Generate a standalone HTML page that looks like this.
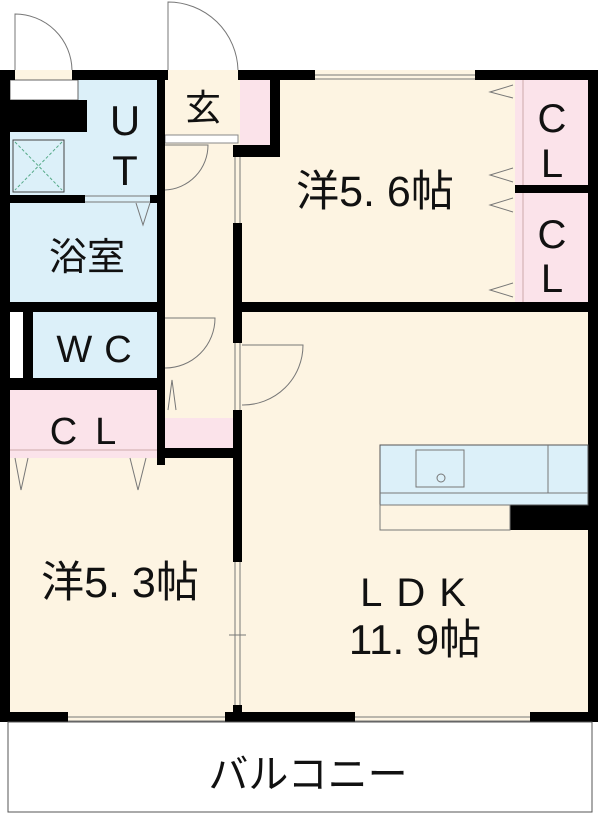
<!DOCTYPE html>
<html><head><meta charset="utf-8"><style>
html,body{margin:0;padding:0;background:#fff;}
svg{display:block;}
text{font-family:"Liberation Sans","Noto Sans CJK JP",sans-serif;fill:#111;}
</style></head><body>
<svg width="600" height="818" viewBox="0 0 600 818" xmlns="http://www.w3.org/2000/svg">
<rect x="0" y="70" width="598" height="652" fill="#fdf4e2"/>
<rect x="10" y="80" width="147" height="222" fill="#dcf0f9"/>
<rect x="10" y="312" width="147" height="66" fill="#dcf0f9"/>
<rect x="10" y="390" width="147" height="68" fill="#fbe3ea"/>
<rect x="165" y="418" width="68" height="30" fill="#fbe3ea"/>
<rect x="240" y="80" width="30" height="65" fill="#fbe3ea"/>
<rect x="515" y="80" width="73" height="222" fill="#fbe3ea"/>
<line x1="523" y1="80" x2="523" y2="302" stroke="#caa" stroke-width="1"/>
<line x1="10" y1="450" x2="157" y2="450" stroke="#caa" stroke-width="1"/>
<rect x="10" y="80" width="68" height="20" fill="#fff" stroke="#666" stroke-width="1"/>
<rect x="10" y="100" width="77" height="32" fill="#000"/>
<rect x="13" y="140" width="51" height="52" fill="none" stroke="#444" stroke-width="1"/>
<line x1="15" y1="142" x2="62" y2="190" stroke="#5a8" stroke-width="1" stroke-dasharray="3,2"/>
<line x1="62" y1="142" x2="15" y2="190" stroke="#5a8" stroke-width="1" stroke-dasharray="3,2"/>
<rect x="10" y="312" width="13" height="66" fill="#fff"/>
<rect x="23" y="312" width="10" height="66" fill="#000"/>
<rect x="165" y="135" width="73" height="8" fill="#fff" stroke="#888" stroke-width="1"/>
<g fill="#000">
<rect x="0" y="70" width="15" height="10"/>
<rect x="72" y="70" width="96" height="10"/>
<rect x="238" y="70" width="77" height="10"/>
<rect x="475" y="70" width="123" height="10"/>
<rect x="0" y="70" width="10" height="652"/>
<rect x="588" y="70" width="10" height="652"/>
<rect x="0" y="712" width="68" height="10"/>
<rect x="225" y="712" width="130" height="10"/>
<rect x="530" y="712" width="68" height="10"/>
<rect x="157" y="80" width="8" height="385"/>
<rect x="10" y="195" width="75" height="8"/>
<rect x="150" y="195" width="15" height="8"/>
<rect x="0" y="302" width="165" height="10"/>
<rect x="0" y="378" width="165" height="12"/>
<rect x="157" y="448" width="85" height="10"/>
<rect x="270" y="80" width="10" height="77"/>
<rect x="233" y="145" width="47" height="12"/>
<rect x="233" y="223" width="9" height="120"/>
<rect x="233" y="410" width="9" height="152"/>
<rect x="233" y="705" width="9" height="17"/>
<rect x="233" y="302" width="365" height="10"/>
<rect x="515" y="185" width="73" height="8"/>
<rect x="510" y="505" width="78" height="25"/>
</g>
<g fill="none" stroke="#777" stroke-width="1">
<line x1="235" y1="157" x2="235" y2="223"/><line x1="240" y1="157" x2="240" y2="223"/>
<line x1="235" y1="343" x2="235" y2="410"/><line x1="240" y1="343" x2="240" y2="410"/>
<line x1="235" y1="562" x2="235" y2="705"/><line x1="240" y1="562" x2="240" y2="705"/>
<line x1="229" y1="635" x2="246" y2="635"/>
<line x1="315" y1="75" x2="475" y2="75"/><line x1="315" y1="79" x2="475" y2="79"/>
<line x1="68" y1="717" x2="225" y2="717"/><line x1="68" y1="721" x2="225" y2="721"/>
<line x1="355" y1="717" x2="530" y2="717"/><line x1="355" y1="721" x2="530" y2="721"/>
<line x1="85" y1="196" x2="150" y2="196"/><line x1="85" y1="202" x2="150" y2="202"/>
<path d="M15 70 V14 A57 57 0 0 1 72 70"/>
<path d="M168 70 V2 A70 70 0 0 1 238 70"/>
<path d="M165 145 H208 A45 45 0 0 1 165 190"/>
<path d="M165 318 H215 A50 50 0 0 1 165 368"/>
<path d="M242 345 H303 A60 60 0 0 1 242 405"/>
<path d="M150 203 L143 225 L136 203"/>
<path d="M168 410 L172 380 L176 410"/>
<path d="M15 458 L21 490 L28 458"/><path d="M130 458 L138 490 L146 458"/>
<path d="M513 85 L490 92 L513 98"/><path d="M513 168 L490 175 L513 182"/>
<path d="M513 198 L490 205 L513 212"/><path d="M513 283 L490 290 L513 297"/>
<rect x="380" y="445" width="208" height="60" fill="#dcf0f9" stroke="#555"/>
<line x1="380" y1="493" x2="588" y2="493"/>
<line x1="548" y1="445" x2="548" y2="493"/>
<rect x="416" y="450" width="48" height="37"/>
<circle cx="441" cy="478" r="4"/>
<rect x="380" y="505" width="130" height="25"/>
<rect x="8" y="722" width="584" height="90" stroke="#555"/>
</g>
<g>
<text x="125" y="135" text-anchor="middle" font-size="42">U</text>
<text x="125" y="185" text-anchor="middle" font-size="42">T</text>
<text x="203" y="120" text-anchor="middle" font-size="36">玄</text>
<text x="87" y="270" text-anchor="middle" font-size="38">浴室</text>
<text x="100" y="362" text-anchor="middle" font-size="38" letter-spacing="12">WC</text>
<text x="92" y="444" text-anchor="middle" font-size="38" letter-spacing="18">CL</text>
<text x="375" y="206" text-anchor="middle" font-size="43">洋5. 6帖</text>
<text x="552" y="132" text-anchor="middle" font-size="40">C</text>
<text x="552" y="177" text-anchor="middle" font-size="40">L</text>
<text x="552" y="248" text-anchor="middle" font-size="40">C</text>
<text x="552" y="292" text-anchor="middle" font-size="40">L</text>
<text x="120" y="597" text-anchor="middle" font-size="43">洋5. 3帖</text>
<text x="420" y="606" text-anchor="middle" font-size="40" letter-spacing="14">LDK</text>
<text x="415" y="654" text-anchor="middle" font-size="42">11. 9帖</text>
<text x="308" y="788" text-anchor="middle" font-size="40">バルコニー</text>
</g>
</svg>
</body></html>
